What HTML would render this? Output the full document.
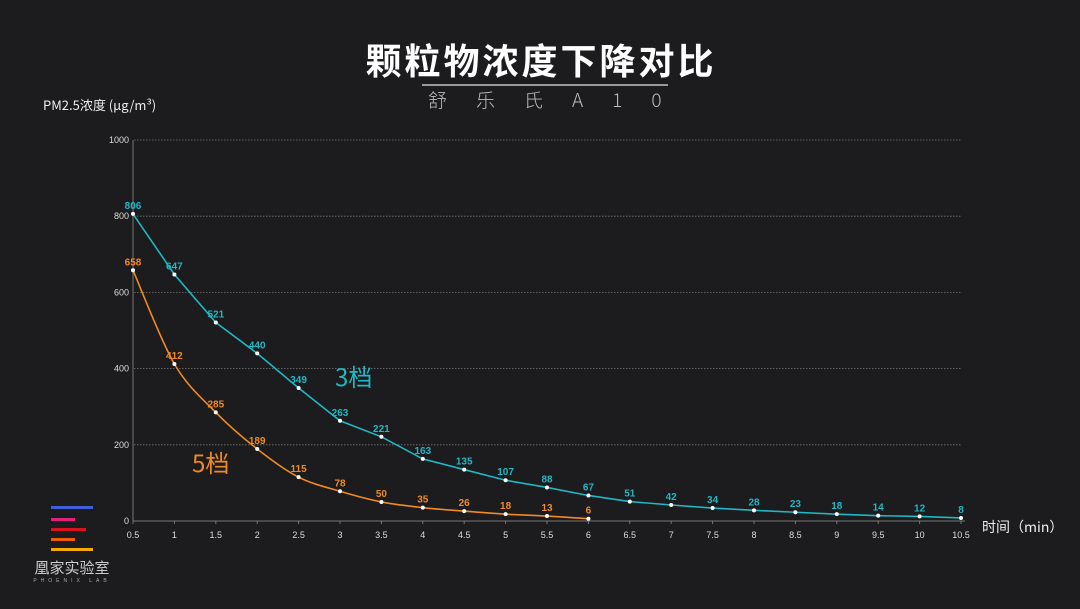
<!DOCTYPE html>
<html><head><meta charset="utf-8"><style>
html,body{margin:0;padding:0;background:#1c1b1d;}
svg{display:block}
text{font-family:"Liberation Sans","Noto Sans CJK SC",sans-serif;}
</style></head><body>
<svg id="s" width="1080" height="609" viewBox="0 0 1080 609" xmlns="http://www.w3.org/2000/svg">
<rect width="1080" height="609" fill="#1c1b1d"/>
<text x="541" y="74" text-anchor="middle" fill="#fff" font-size="36" font-weight="bold" letter-spacing="3" style="font-family:'Noto Sans CJK SC',sans-serif">颗粒物浓度下降对比</text>
<line x1="422" y1="85" x2="668" y2="85" stroke="#999" stroke-width="2"/>
<text x="428" y="107" fill="#bbb" font-size="19" letter-spacing="29" style="font-family:'Noto Sans CJK SC',sans-serif;font-weight:300">舒乐氏A10</text>
<text x="43" y="110" fill="#eee" font-size="13" style="font-family:'Noto Sans CJK SC',sans-serif">PM2.5浓度 (μg/m³)</text>
<text x="982" y="532" fill="#eee" font-size="14" style="font-family:'Noto Sans CJK SC',sans-serif">时间（min）</text>
<g id="g"></g>
<rect x="51" y="506" width="42" height="3" fill="#3d5ed6"/>
<rect x="51" y="518" width="24" height="3" fill="#e0207a"/>
<rect x="51" y="528" width="35" height="3" fill="#d8121f"/>
<rect x="51" y="538" width="24" height="3" fill="#f05a0a"/>
<rect x="51" y="548" width="42" height="3" fill="#f5a800"/>
<text x="72" y="573" text-anchor="middle" fill="#ccc" font-size="15" style="font-family:'Noto Sans CJK SC',sans-serif">凰家实验室</text>
<text x="72" y="582" text-anchor="middle" fill="#aaa" font-size="5" letter-spacing="4">PHOENIX LAB</text>
<text x="335" y="386" fill="#1fb8c4" font-size="24" style="font-family:'Noto Sans CJK SC',sans-serif">3档</text>
<text x="192" y="472" fill="#f08a24" font-size="24" style="font-family:'Noto Sans CJK SC',sans-serif">5档</text>
</svg>
<script>
var g=document.getElementById('g'),h='';
function X(t){return 133+(t-0.5)*82.8}
function Y(v){return 521-v*0.381}
for(var v=200;v<=1000;v+=200){h+='<line x1="134" y1="'+Y(v)+'" x2="961" y2="'+Y(v)+'" stroke="#777" stroke-dasharray="1.5,1.5" stroke-width="0.8"/>';}
for(var v=0;v<=1000;v+=200){h+='<text x="129" y="'+(Y(v)+3)+'" text-anchor="end" fill="#ddd" font-size="9">'+v+'</text>';}
h+='<line x1="133" y1="140" x2="133" y2="521" stroke="#777" stroke-width="1"/>';
h+='<line x1="133" y1="521" x2="965" y2="521" stroke="#777" stroke-width="1"/>';
for(var t=0.5;t<=10.5;t+=0.5){h+='<line x1="'+X(t)+'" y1="521" x2="'+X(t)+'" y2="524" stroke="#777"/>';h+='<text x="'+X(t)+'" y="538" text-anchor="middle" fill="#ddd" font-size="9">'+t+'</text>';}
var a=[806,647,521,440,349,263,221,163,135,107,88,67,51,42,34,28,23,18,14,12,8];
var b=[658,412,285,189,115,78,50,35,26,18,13,6];
function s(d,c,smooth){var P=d.map(function(v,i){return [X(0.5+i*0.5),Y(v)]});
var p='M'+P[0][0]+','+P[0][1];
for(var i=0;i<P.length-1;i++){
 if(!smooth){p+=' L'+P[i+1][0]+','+P[i+1][1];continue;}
 var p0=P[i-1]||P[i],p1=P[i],p2=P[i+1],p3=P[i+2]||p2,k=0.16;
 p+=' C'+(p1[0]+(p2[0]-p0[0])*k)+','+(p1[1]+(p2[1]-p0[1])*k)+' '+(p2[0]-(p3[0]-p1[0])*k)+','+(p2[1]-(p3[1]-p1[1])*k)+' '+p2[0]+','+p2[1];}
h+='<path d="'+p+'" fill="none" stroke="'+c+'" stroke-width="1.6"/>';
P.forEach(function(q,i){h+='<circle cx="'+q[0]+'" cy="'+q[1]+'" r="2" fill="#fff"/>';
h+='<text x="'+q[0]+'" y="'+(q[1]-5)+'" text-anchor="middle" fill="'+c+'" font-size="10" font-weight="bold">'+d[i]+'</text>';});}
s(a,'#1fb8c4',false);s(b,'#f08a24',true);
g.innerHTML=h;
</script>
</body></html>
